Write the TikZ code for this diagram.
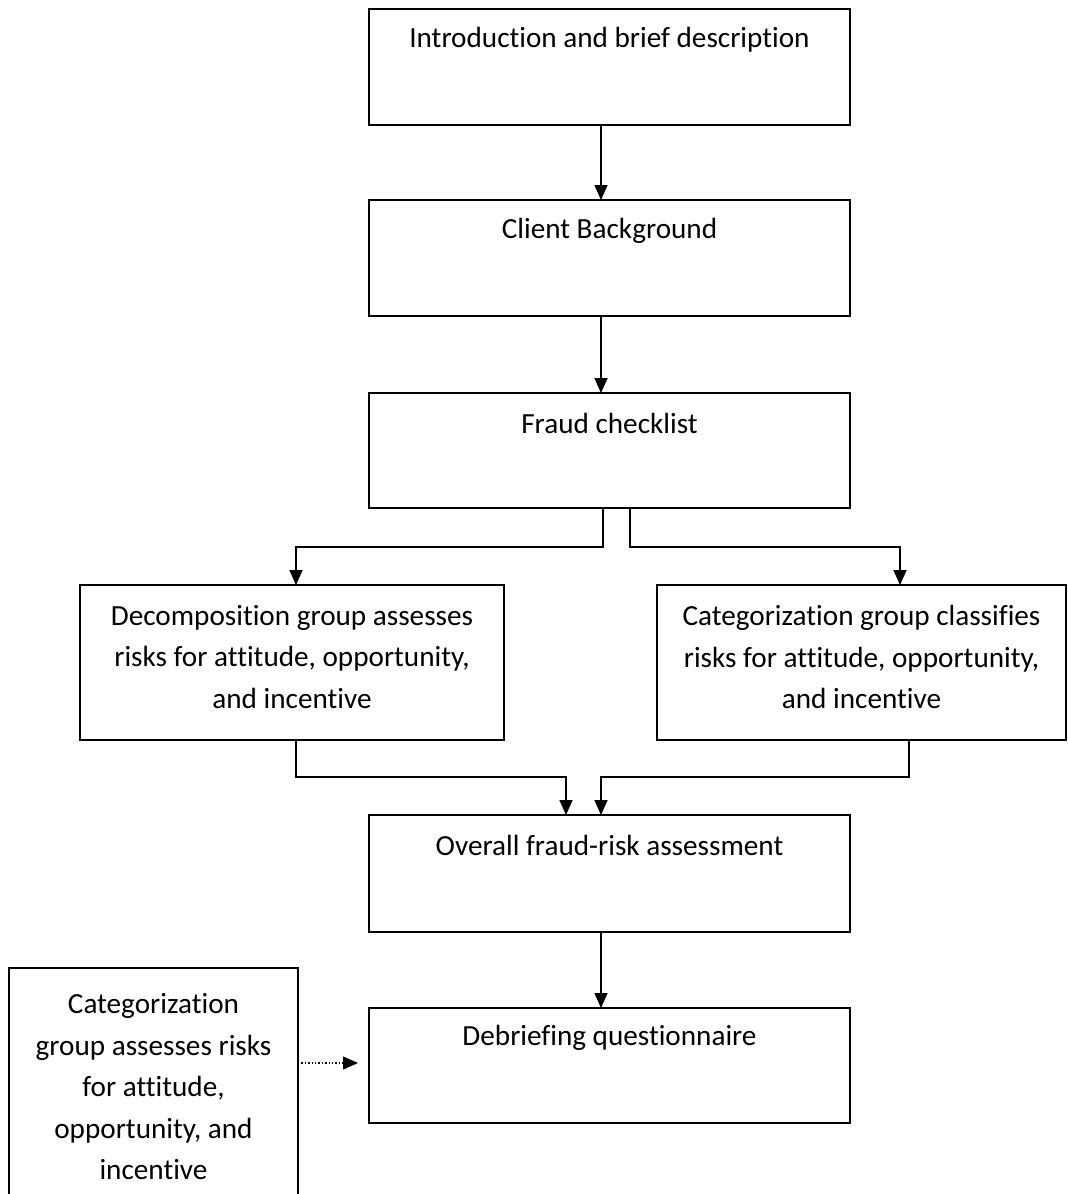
\documentclass[tikz,border=0pt]{standalone}
\usepackage{fontspec}
\setmainfont[Ligatures=NoCommon]{Carlito}
\usetikzlibrary{arrows.meta}
\begin{document}
\begin{tikzpicture}[x=1pt,y=-1pt,
 box/.style={draw,line width=1.8pt,inner sep=0,outer sep=0,anchor=north west},
 txt/.style={font=\fontsize{29.2}{41.5}\selectfont,align=center,inner sep=0},
 conn/.style={line width=1.6pt,-{Triangle[length=15pt,width=13pt]}},
 dconn/.style={line width=1.4pt,dotted,-{Triangle[length=15pt,width=13pt]}}]
\useasboundingbox (0,0) rectangle (1068,1194);
% boxes
\node[box,minimum width=481pt,minimum height=116pt] (b1) at (369,9) {};
\node[box,minimum width=481pt,minimum height=116pt] (b2) at (369,200) {};
\node[box,minimum width=481pt,minimum height=115pt] (b3) at (369,393) {};
\node[box,minimum width=424pt,minimum height=155pt] (b4) at (80,585) {};
\node[box,minimum width=409pt,minimum height=155pt] (b5) at (657,585) {};
\node[box,minimum width=481pt,minimum height=117pt] (b6) at (369,815) {};
\node[box,minimum width=481pt,minimum height=115pt] (b7) at (369,1008) {};
\node[box,minimum width=289pt,minimum height=240pt] (b8) at (9,968) {};
% texts
\node[txt] (t1) at (609.5,40) {Introduction and brief description};
\node[txt] (t2) at (609.5,231) {Client Background};
\node[txt] (t3) at (609.5,423) {Fraud checklist};
\node[txt] (t4) at (292,657) {Decomposition group assesses\\risks for attitude, opportunity,\\and incentive};
\node[txt] (t5) at (861.5,657) {Categorization group classifies\\risks for attitude, opportunity,\\and incentive};
\node[txt] (t6) at (609.5,845) {Overall fraud-risk assessment};
\node[txt] (t7) at (609.5,1038) {Debriefing questionnaire};
\node[txt] (t8) at (153.5,1087) {Categorization\\group assesses risks\\for attitude,\\opportunity, and\\incentive};
% connectors
\draw[conn] ([xshift=-8.5pt]b1.south) -- ([xshift=-8.5pt]b2.north);
\draw[conn] ([xshift=-8.5pt]b2.south) -- ([xshift=-8.5pt]b3.north);
\draw[conn] ([xshift=-6.5pt]b3.south) -- ++(0,39) -| ([xshift=4pt]b4.north);
\draw[conn] ([xshift=20.5pt]b3.south) -- ++(0,39) -| ([xshift=38.5pt]b5.north);
\draw[conn] ([xshift=4pt]b4.south) -- ++(0,37) -| ([xshift=-43.5pt]b6.north);
\draw[conn] ([xshift=47.5pt]b5.south) -- ++(0,37) -| ([xshift=-8.5pt]b6.north);
\draw[conn] ([xshift=-8.5pt]b6.south) -- ([xshift=-8.5pt]b7.north);
\coordinate (d) at (358,1063);
\draw[dconn] (b8.east |- d) -- (d);
\end{tikzpicture}
\end{document}
